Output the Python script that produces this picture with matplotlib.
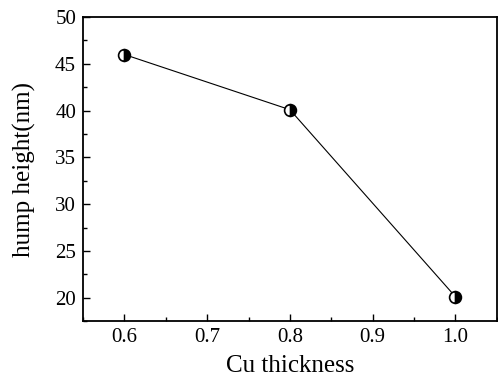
import matplotlib
matplotlib.use("Agg")
import matplotlib.pyplot as plt
from matplotlib.ticker import MultipleLocator

cu_thickness = [0.6, 0.8, 1.0]
hump_height = [46.0, 40.1, 20.1]

plt.rcParams['font.family'] = ['Liberation Serif', 'DejaVu Serif']

fig = plt.figure(figsize=(4.98, 3.80), dpi=100)
ax = fig.add_axes([0.1667, 0.155, 0.831, 0.80])

ax.plot(cu_thickness, hump_height, color='black', lw=0.8,
        marker='o', markersize=8.5, fillstyle='right',
        markerfacecolor='black', markerfacecoloralt='white',
        markeredgecolor='black', markeredgewidth=1.2)

ax.set_xlim(0.55, 1.05)
ax.set_ylim(17.5, 50)
ax.xaxis.set_major_locator(MultipleLocator(0.1))
ax.xaxis.set_minor_locator(MultipleLocator(0.05))
ax.yaxis.set_major_locator(MultipleLocator(5))
ax.yaxis.set_minor_locator(MultipleLocator(2.5))
ax.tick_params(which='both', direction='in', labelsize=15, width=1.0)
ax.tick_params(which='major', length=5, pad=5)
ax.tick_params(which='minor', length=3)
ax.set_xticks([0.6, 0.7, 0.8, 0.9, 1.0])
ax.set_xticklabels(['0.6', '0.7', '0.8', '0.9', '1.0'])
for s in ax.spines.values():
    s.set_linewidth(1.3)

ax.set_xlabel('Cu thickness', fontsize=18, labelpad=6)
ax.set_ylabel('hump height(nm)', fontsize=18, labelpad=14)

fig.savefig('out.png', dpi=100)
